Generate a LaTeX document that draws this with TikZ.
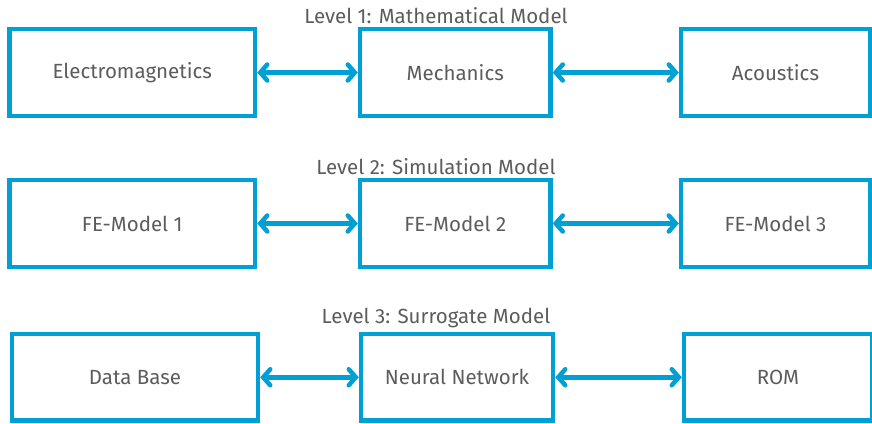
\documentclass[tikz,border=0pt]{standalone}
\usepackage{fontspec}
\setmainfont{Fira Sans}
\usetikzlibrary{arrows.meta}
\definecolor{boxblue}{RGB}{0,160,212}
\definecolor{txtgray}{RGB}{92,92,92}
\tikzset{
  mbox/.style={draw=boxblue, line width=4.5pt, rectangle, inner sep=0pt, text=txtgray, font=\fontsize{20.5}{24}\selectfont},
  lvl/.style={text=txtgray, font=\fontsize{20.5}{24}\selectfont, inner sep=0pt},
  link/.style={draw=boxblue, line width=4.5pt, line cap=round, {Straight Barb[length=7pt,width=16pt,line cap=round]}-{Straight Barb[length=7pt,width=16pt,line cap=round]}}
}
\begin{document}
\begin{tikzpicture}[x=1pt,y=-1pt]
\useasboundingbox (0,0) rectangle (872,423);
% Level labels
\node[lvl] (l1) at (436,16) {Level 1: Mathematical Model};
\node[lvl] (l2) at (436,167) {Level 2: Simulation Model};
\node[lvl] (l3) at (436,318) {Level 3: Surrogate Model};
% Row 1
\node[mbox, minimum width=245.5pt, minimum height=87pt] (em) at (132.25,72.5) {Electromagnetics};
\node[mbox, minimum width=190.5pt, minimum height=87pt] (me) at (455.25,72.5) {Mechanics};
\node[mbox, minimum width=189pt, minimum height=87pt] (ac) at (775.5,72.5) {Acoustics};
% Row 2
\node[mbox, minimum width=245.5pt, minimum height=87pt] (fe1) at (132.25,223.5) {FE-Model 1};
\node[mbox, minimum width=190.5pt, minimum height=87pt] (fe2) at (455.25,223.5) {FE-Model 2};
\node[mbox, minimum width=189pt, minimum height=87pt] (fe3) at (775.5,223.5) {FE-Model 3};
% Row 3
\node[mbox, minimum width=246pt, minimum height=86.5pt] (db) at (135,377.25) {Data Base};
\node[mbox, minimum width=192pt, minimum height=86.5pt] (nn) at (457,377.25) {Neural Network};
\node[mbox, minimum width=188pt, minimum height=86.5pt] (rom) at (778,377.25) {ROM};
% Links
\draw[link] (em.east) -- (me.west);
\draw[link] (me.east) -- (ac.west);
\draw[link] (fe1.east) -- (fe2.west);
\draw[link] (fe2.east) -- (fe3.west);
\draw[link] (db.east) -- (nn.west);
\draw[link] (nn.east) -- (rom.west);
\end{tikzpicture}
\end{document}
